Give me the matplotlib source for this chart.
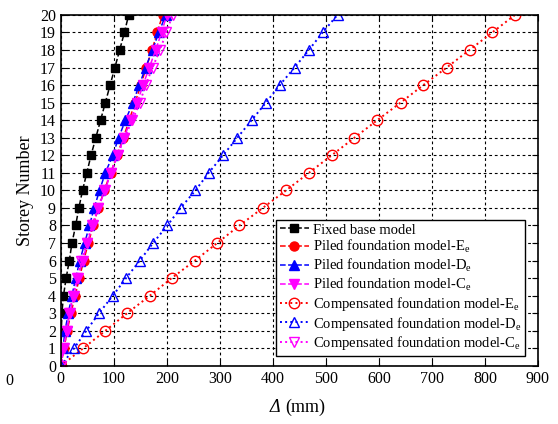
import numpy as np
import matplotlib
matplotlib.use("Agg")
import matplotlib.pyplot as plt

plt.rcParams['font.family'] = ['Liberation Serif', 'DejaVu Serif']
plt.rcParams['mathtext.fontset'] = 'custom'
plt.rcParams['mathtext.rm'] = 'Liberation Serif'
plt.rcParams['mathtext.it'] = 'Liberation Serif:italic'

# storey number and lateral displacement (mm)
storey = np.arange(0, 21)
fixed = [0, 0.5, 1, 2, 5, 10, 16, 21, 28, 34, 41, 49, 57, 66, 75, 84, 93, 102, 111, 120, 128]
piled_E = [0, 6, 12, 19, 27, 35, 43, 52, 61, 71, 82, 94, 106, 118, 129, 140, 151, 161, 172, 182, 192]
piled_D = [0, 4, 8, 14, 21, 28, 36, 45, 54, 63, 73, 84, 98, 109, 122, 136, 148, 160, 173, 185, 198]
piled_C = [0, 5, 11, 17, 25, 32, 41, 50, 60, 71, 83, 95, 107, 119, 132, 144, 155, 167, 179, 190, 200]
comp_E = [0, 42, 84, 125, 168, 209, 253, 295, 337, 381, 425, 468, 511, 554, 597, 641, 684, 728, 771, 814, 857]
comp_D = [0, 25, 48, 72, 98, 123, 149, 174, 201, 226, 254, 279, 306, 333, 360, 387, 413, 441, 468, 494, 522]
comp_C = [0, 6, 11, 16, 23, 31, 39, 49, 59, 70, 82, 94, 107, 120, 135, 149, 160, 173, 187, 199, 211]

fig = plt.figure(figsize=(5.58, 4.24), dpi=100)
ax = fig.add_axes([0.109, 0.137, 0.855, 0.828])

ax.plot(fixed, storey, '--', color='k', marker='s', ms=6, lw=1.1, label='Fixed base model')
ax.plot(piled_E, storey, '--', color='red', marker='o', ms=6.5, lw=1.1, label=r'Piled foundation model-E$_\mathrm{e}$')
ax.plot(piled_D, storey, '--', color='blue', marker='^', ms=6.5, lw=1.1, label=r'Piled foundation model-D$_\mathrm{e}$')
ax.plot(piled_C, storey, '--', color='magenta', marker='v', ms=6.5, lw=1.1, label=r'Piled foundation model-C$_\mathrm{e}$')
ax.plot(comp_E, storey, ':', color='red', marker='o', mfc='none', ms=7.5, lw=1.4, label=r'Compensated foundation model-E$_\mathrm{e}$')
ax.plot(comp_D, storey, ':', color='blue', marker='^', mfc='none', ms=7.5, lw=1.4, label=r'Compensated foundation model-D$_\mathrm{e}$')
ax.plot(comp_C, storey, ':', color='magenta', marker='v', mfc='none', ms=7.5, lw=1.4, label=r'Compensated foundation model-C$_\mathrm{e}$')

ax.set_xlim(0, 900)
ax.set_ylim(0, 20)
ax.set_xticks(np.arange(0, 901, 100))
ax.set_yticks(np.arange(0, 21, 1))
ax.tick_params(direction='in', top=True, right=True, labelsize=11.5, length=4)
ax.grid(True, linestyle=(0, (2.5, 2.5)), color='k', lw=0.8)
for s in ax.spines.values():
    s.set_linewidth(1.2)

ax.set_ylabel('Storey Number', fontsize=13)
# x label: italic Delta followed by upright unit
fig.text(0.502, 0.028, 'Δ', style='italic', fontsize=13, ha='right', va='baseline')
fig.text(0.512, 0.028, '(mm)', fontsize=13, ha='left', va='baseline')

leg = ax.legend(loc='lower right', bbox_to_anchor=(0.98, 0.02), fontsize=10.5,
                fancybox=False, edgecolor='k', framealpha=1, handlelength=2.0,
                borderpad=0.25, labelspacing=0.12, handletextpad=0.3,
                borderaxespad=0.2)
leg.get_frame().set_linewidth(1.0)

fig.text(0.009, 0.092, '0', fontsize=11.5)

fig.savefig('out.png', dpi=100)
